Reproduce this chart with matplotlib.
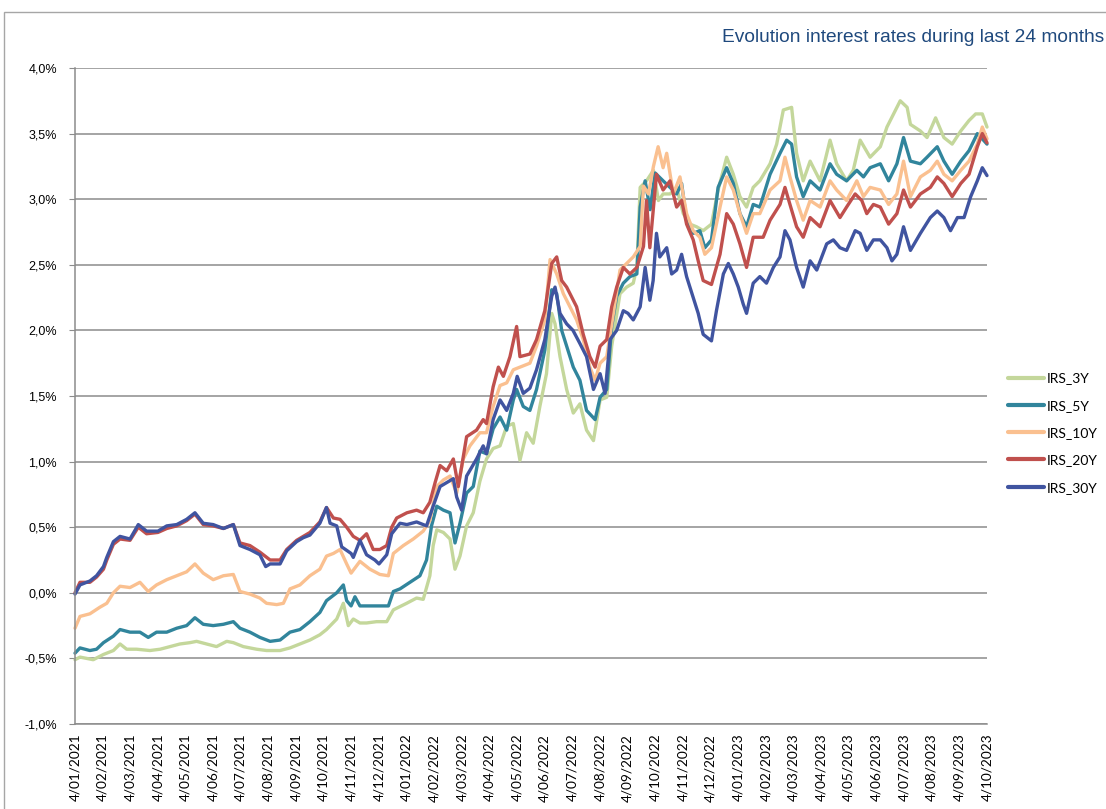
import matplotlib
matplotlib.use("Agg")
import matplotlib.pyplot as plt
from matplotlib.patches import Rectangle
from matplotlib.ticker import FuncFormatter, MultipleLocator

# ---- data: (month offset from 4/01/2021, rate in %) ----
irs_3y = [(0,-0.51),(0.18,-0.49),(0.66,-0.51),(1.03,-0.47),(1.39,-0.44),(1.63,-0.39),(1.87,-0.43),(2.23,-0.43),
          (2.71,-0.44),(3.08,-0.43),(3.44,-0.41),(3.80,-0.39),(4.16,-0.38),(4.40,-0.37),(4.76,-0.39),(5.12,-0.41),
          (5.49,-0.37),(5.73,-0.38),(6.09,-0.41),(6.57,-0.43),(6.93,-0.44),(7.42,-0.44),(7.78,-0.42),(8.14,-0.39),
          (8.50,-0.36),(8.86,-0.32),(9.10,-0.28),(9.47,-0.20),(9.71,-0.08),(9.89,-0.25),(10.07,-0.20),(10.31,-0.23),
          (10.55,-0.23),(10.91,-0.22),(11.28,-0.22),(11.52,-0.13),(12.0,-0.08),(12.36,-0.04),(12.60,-0.05),(12.84,0.13),
          (12.96,0.36),(13.09,0.48),(13.33,0.46),(13.57,0.41),(13.75,0.18),(13.93,0.28),(14.17,0.51),(14.41,0.61),
          (14.65,0.85),(14.89,1.02),(15.13,1.10),(15.38,1.12),(15.62,1.27),(15.86,1.29),(16.10,1.01),(16.34,1.22),
          (16.58,1.14),(16.82,1.42),(17.06,1.67),(17.25,2.13),(17.37,2.05),(17.55,1.80),(17.79,1.55),(18.03,1.37),
          (18.27,1.44),(18.51,1.24),(18.76,1.16),(19.0,1.47),(19.24,1.49),(19.42,1.88),(19.72,2.28),(19.96,2.33),
          (20.20,2.36),(20.33,2.48),(20.45,3.09),(20.68,3.14),(20.93,3.22),(21.11,2.99),(21.28,3.04),(21.53,3.04),
          (21.77,3.09),(22.01,2.89),(22.25,2.81),(22.49,2.79),(22.73,2.76),(23.03,2.81),(23.27,3.07),(23.58,3.32),
          (23.82,3.19),(24.06,3.02),(24.30,2.94),(24.54,3.09),(24.78,3.14),(25.15,3.27),(25.39,3.42),(25.63,3.68),
          (25.93,3.70),(26.11,3.35),(26.35,3.14),(26.60,3.29),(26.96,3.14),(27.32,3.45),(27.56,3.27),(27.92,3.14),
          (28.16,3.22),(28.41,3.45),(28.77,3.32),(29.14,3.40),(29.38,3.55),(29.62,3.65),(29.86,3.75),(30.11,3.70),
          (30.23,3.57),(30.59,3.52),(30.83,3.47),(31.14,3.62),(31.44,3.47),(31.74,3.42),(32.05,3.52),(32.35,3.60),
          (32.59,3.65),(32.83,3.65),(33.0,3.55)]

irs_5y = [(0,-0.46),(0.18,-0.42),(0.54,-0.44),(0.78,-0.43),(1.03,-0.38),(1.39,-0.33),(1.63,-0.28),(1.99,-0.30),
          (2.35,-0.30),(2.65,-0.34),(2.95,-0.30),(3.32,-0.30),(3.68,-0.27),(4.04,-0.25),(4.34,-0.19),(4.64,-0.24),
          (5.0,-0.25),(5.37,-0.24),(5.73,-0.22),(5.97,-0.27),(6.33,-0.30),(6.69,-0.34),(7.06,-0.37),(7.42,-0.36),
          (7.78,-0.30),(8.14,-0.28),(8.50,-0.22),(8.86,-0.15),(9.10,-0.06),(9.47,0.0),(9.71,0.06),(9.83,-0.06),
          (9.99,-0.10),(10.13,-0.03),(10.31,-0.10),(10.67,-0.10),(11.03,-0.10),(11.34,-0.10),(11.52,0.01),(11.76,0.03),
          (12.12,0.08),(12.48,0.13),(12.72,0.25),(12.90,0.51),(13.09,0.66),(13.33,0.63),(13.57,0.61),(13.75,0.38),
          (13.93,0.53),(14.17,0.76),(14.41,0.81),(14.65,1.08),(14.89,1.06),(15.13,1.25),(15.38,1.34),(15.62,1.24),
          (15.86,1.47),(15.98,1.55),(16.22,1.42),(16.46,1.39),(16.70,1.55),(17.0,1.85),(17.25,2.31),(17.43,2.28),
          (17.61,2.00),(17.79,1.88),(18.03,1.72),(18.27,1.62),(18.51,1.39),(18.82,1.32),(19.0,1.49),(19.24,1.55),
          (19.42,2.03),(19.60,2.26),(19.84,2.36),(20.08,2.41),(20.33,2.43),(20.45,2.94),(20.63,3.14),(20.81,2.92),
          (20.99,3.20),(21.28,3.14),(21.53,3.09),(21.77,3.04),(21.95,3.12),(22.13,2.84),(22.37,2.74),(22.61,2.76),
          (22.79,2.63),(23.03,2.69),(23.27,3.09),(23.58,3.24),(23.82,3.12),(24.06,2.89),(24.30,2.79),(24.54,2.96),
          (24.78,2.94),(25.15,3.19),(25.51,3.35),(25.75,3.45),(25.93,3.42),(26.11,3.17),(26.35,3.02),(26.60,3.14),
          (26.96,3.07),(27.32,3.27),(27.56,3.19),(27.92,3.14),(28.29,3.22),(28.53,3.17),(28.77,3.24),(29.14,3.27),
          (29.44,3.14),(29.74,3.27),(29.98,3.47),(30.23,3.29),(30.59,3.27),(30.83,3.32),(31.20,3.40),(31.44,3.29),
          (31.74,3.19),(32.05,3.29),(32.35,3.37),(32.65,3.50),(32.83,3.46),(33.0,3.42)]

irs_10y = [(0,-0.27),(0.18,-0.18),(0.54,-0.16),(0.90,-0.11),(1.15,-0.08),(1.39,0.0),(1.63,0.05),(1.99,0.04),
           (2.35,0.08),(2.65,0.01),(2.95,0.06),(3.32,0.10),(3.68,0.13),(4.04,0.16),(4.34,0.22),(4.64,0.15),
           (5.0,0.10),(5.37,0.13),(5.73,0.14),(5.97,0.01),(6.33,-0.01),(6.69,-0.04),(6.93,-0.08),(7.30,-0.09),
           (7.54,-0.08),(7.78,0.03),(8.14,0.06),(8.50,0.13),(8.86,0.18),(9.10,0.28),(9.35,0.30),(9.59,0.33),
           (9.83,0.22),(9.99,0.15),(10.31,0.24),(10.67,0.18),(11.03,0.14),(11.34,0.13),(11.52,0.30),(11.88,0.36),
           (12.24,0.41),(12.60,0.47),(12.84,0.55),(13.09,0.81),(13.33,0.86),(13.57,0.89),(13.81,0.76),(14.05,1.02),
           (14.29,1.12),(14.65,1.22),(14.89,1.22),(15.13,1.42),(15.38,1.58),(15.62,1.60),(15.86,1.70),(16.10,1.72),
           (16.46,1.75),(16.70,1.88),(17.0,2.08),(17.19,2.54),(17.43,2.43),(17.67,2.28),(17.91,2.18),(18.15,2.08),
           (18.39,1.93),(18.63,1.72),(18.82,1.62),(19.0,1.75),(19.24,1.80),(19.48,2.13),(19.72,2.46),(19.96,2.51),
           (20.20,2.56),(20.45,2.64),(20.57,3.10),(20.75,3.04),(20.93,3.25),(21.10,3.40),(21.28,3.24),(21.41,3.35),
           (21.65,3.04),(21.89,3.17),(22.13,2.89),(22.37,2.76),(22.61,2.71),(22.79,2.58),(23.03,2.63),(23.34,2.94),
           (23.58,3.17),(23.82,3.07),(24.06,2.89),(24.30,2.74),(24.54,2.89),(24.78,2.89),(25.15,3.07),(25.51,3.14),
           (25.69,3.32),(25.87,3.17),(26.11,2.99),(26.35,2.84),(26.60,2.99),(26.96,2.94),(27.32,3.14),(27.56,3.07),
           (27.92,2.99),(28.29,3.14),(28.53,3.02),(28.77,3.09),(29.14,3.07),(29.44,2.96),(29.74,3.04),(29.98,3.29),
           (30.23,3.02),(30.59,3.17),(30.95,3.22),(31.20,3.29),(31.44,3.19),(31.74,3.14),(32.05,3.22),(32.35,3.29),
           (32.65,3.42),(32.83,3.55),(33.0,3.46)]

irs_20y = [(0,0.0),(0.18,0.08),(0.54,0.08),(0.78,0.12),(1.03,0.18),(1.15,0.25),(1.39,0.37),(1.63,0.41),
           (1.99,0.40),(2.29,0.50),(2.59,0.45),(3.0,0.46),(3.32,0.49),(3.68,0.51),(4.04,0.55),(4.34,0.60),
           (4.64,0.52),(5.0,0.51),(5.37,0.49),(5.73,0.52),(5.97,0.38),(6.33,0.36),(6.69,0.31),(7.06,0.25),
           (7.42,0.25),(7.66,0.33),(8.02,0.40),(8.26,0.43),(8.50,0.46),(8.86,0.54),(9.10,0.65),(9.35,0.57),
           (9.59,0.56),(9.83,0.50),(10.07,0.43),(10.31,0.40),(10.55,0.45),(10.79,0.33),(11.03,0.33),(11.28,0.36),
           (11.46,0.50),(11.64,0.57),(12.01,0.61),(12.36,0.63),(12.60,0.61),(12.84,0.69),(13.03,0.84),(13.21,0.97),
           (13.45,0.93),(13.69,1.02),(13.87,0.81),(14.05,1.04),(14.17,1.19),(14.53,1.24),(14.77,1.32),(14.89,1.29),
           (15.13,1.57),(15.32,1.72),(15.50,1.65),(15.74,1.80),(15.98,2.03),(16.10,1.80),(16.46,1.82),(16.70,1.93),
           (17.0,2.15),(17.25,2.51),(17.43,2.56),(17.61,2.38),(17.79,2.33),(18.15,2.18),(18.39,1.97),(18.63,1.80),
           (18.82,1.72),(19.0,1.88),(19.24,1.93),(19.42,2.18),(19.60,2.33),(19.84,2.48),(20.08,2.43),(20.33,2.48),
           (20.57,2.64),(20.68,2.99),(20.80,2.63),(21.04,3.19),(21.28,3.07),(21.53,3.14),(21.77,2.94),(21.95,2.99),
           (22.13,2.81),(22.37,2.69),(22.55,2.53),(22.73,2.38),(23.03,2.35),(23.34,2.58),(23.58,2.89),(23.82,2.81),
           (24.06,2.66),(24.30,2.48),(24.54,2.71),(24.90,2.71),(25.15,2.84),(25.51,2.96),(25.69,3.09),(25.87,2.96),
           (26.11,2.79),(26.35,2.71),(26.60,2.86),(26.96,2.79),(27.32,2.99),(27.68,2.86),(27.92,2.94),(28.23,3.04),
           (28.47,2.99),(28.65,2.89),(28.89,2.96),(29.14,2.94),(29.44,2.81),(29.74,2.89),(29.98,3.07),(30.23,2.94),
           (30.59,3.04),(30.95,3.09),(31.20,3.17),(31.44,3.12),(31.74,3.02),(32.05,3.12),(32.35,3.19),(32.65,3.40),
           (32.83,3.50),(33.0,3.43)]

irs_30y = [(0,-0.01),(0.18,0.06),(0.54,0.09),(0.78,0.13),(1.03,0.20),(1.15,0.27),(1.39,0.39),(1.63,0.43),
           (1.99,0.41),(2.29,0.52),(2.59,0.47),(3.0,0.47),(3.32,0.51),(3.68,0.52),(4.04,0.56),(4.34,0.61),
           (4.64,0.53),(5.0,0.52),(5.37,0.49),(5.73,0.52),(5.97,0.36),(6.33,0.33),(6.69,0.29),(6.90,0.20),
           (7.06,0.22),(7.42,0.22),(7.66,0.32),(8.02,0.39),(8.26,0.42),(8.50,0.44),(8.86,0.53),(9.10,0.65),
           (9.23,0.53),(9.47,0.51),(9.65,0.35),(9.99,0.30),(10.07,0.27),(10.31,0.40),(10.55,0.29),(10.85,0.25),
           (11.0,0.22),(11.28,0.29),(11.46,0.45),(11.76,0.53),(12.01,0.52),(12.36,0.54),(12.72,0.51),(12.96,0.66),
           (13.21,0.81),(13.45,0.84),(13.69,0.87),(13.81,0.73),(13.99,0.63),(14.17,0.89),(14.53,1.02),(14.77,1.12),
           (14.89,1.06),(15.13,1.32),(15.38,1.47),(15.62,1.39),(15.86,1.52),(16.0,1.65),(16.22,1.52),(16.46,1.56),
           (16.70,1.70),(17.0,1.93),(17.25,2.26),(17.37,2.33),(17.55,2.13),(17.79,2.05),(18.02,2.00),(18.27,1.90),
           (18.51,1.80),(18.76,1.55),(19.0,1.67),(19.18,1.52),(19.36,1.93),(19.60,2.00),(19.84,2.15),(20.01,2.13),
           (20.20,2.08),(20.45,2.18),(20.63,2.48),(20.80,2.23),(20.92,2.38),(21.04,2.74),(21.16,2.56),(21.41,2.63),
           (21.59,2.43),(21.77,2.46),(21.95,2.58),(22.13,2.41),(22.37,2.25),(22.55,2.13),(22.73,1.97),(23.03,1.92),
           (23.21,2.15),(23.46,2.43),(23.64,2.51),(23.82,2.43),(24.0,2.33),(24.18,2.20),(24.30,2.13),(24.54,2.36),
           (24.78,2.41),(25.02,2.36),(25.27,2.48),(25.51,2.56),(25.69,2.76),(25.87,2.69),(26.11,2.48),(26.35,2.33),
           (26.60,2.53),(26.84,2.46),(27.20,2.66),(27.44,2.69),(27.68,2.63),(27.92,2.61),(28.23,2.76),(28.41,2.74),
           (28.65,2.61),(28.89,2.69),(29.14,2.69),(29.38,2.63),(29.56,2.53),(29.74,2.58),(29.98,2.79),(30.23,2.61),
           (30.59,2.74),(30.95,2.86),(31.20,2.91),(31.44,2.86),(31.68,2.76),(31.93,2.86),(32.17,2.86),(32.41,3.02),
           (32.65,3.14),(32.83,3.24),(33.0,3.18)]

series_names = ["IRS_3Y", "IRS_5Y", "IRS_10Y", "IRS_20Y", "IRS_30Y"]
series_data = [irs_3y, irs_5y, irs_10y, irs_20y, irs_30y]
series_colors = ["#c4d79b", "#31859c", "#fac090", "#c0504d", "#4054a0"]

month_labels = ["4/01/2021", "4/02/2021", "4/03/2021", "4/04/2021", "4/05/2021", "4/06/2021",
                "4/07/2021", "4/08/2021", "4/09/2021", "4/10/2021", "4/11/2021", "4/12/2021",
                "4/01/2022", "4/02/2022", "4/03/2022", "4/04/2022", "4/05/2022", "4/06/2022",
                "4/07/2022", "4/08/2022", "4/09/2022", "4/10/2022", "4/11/2022", "4/12/2022",
                "4/01/2023", "4/02/2023", "4/03/2023", "4/04/2023", "4/05/2023", "4/06/2023",
                "4/07/2023", "4/08/2023", "4/09/2023", "4/10/2023"]

title_text = "Evolution interest rates during last 24 months"

# ---- figure ----
W, H = 1106, 809
fig = plt.figure(figsize=(W / 100, H / 100), dpi=100)
fig.patch.set_facecolor("white")

# outer chart border (cropped at right/bottom)
fig.patches.append(Rectangle((4 / W, -0.2), 1.5, 1.2 - 12 / H,
                             transform=fig.transFigure, fill=False,
                             edgecolor="#a6a6a6", lw=1.0))

left, right, top, bottom = 75, 987, 68, 724
ax = fig.add_axes([left / W, 1 - bottom / H, (right - left) / W, (bottom - top) / H])

grid_color = "#8c8c8c"
for name, data, col in zip(series_names, series_data, series_colors):
    xs = [p[0] for p in data]
    ys = [p[1] for p in data]
    ax.plot(xs, ys, color=col, lw=2.4, label=name, solid_joinstyle="round",
            solid_capstyle="round", clip_on=False)

ax.set_xlim(0, len(month_labels) - 1)
ax.set_ylim(-1.0, 4.0)
ax.yaxis.set_major_locator(MultipleLocator(0.5))
ax.yaxis.set_major_formatter(FuncFormatter(lambda v, p: f"{v:.1f}%".replace(".", ",")))
ax.grid(axis="y", color=grid_color, lw=1.1)
ax.set_axisbelow(True)

ax.set_xticks(range(len(month_labels)))
ax.set_xticklabels(month_labels, rotation=90, fontsize=9.8, family="Lato", va="top")

for s in ["top", "right"]:
    ax.spines[s].set_visible(False)
ax.spines["left"].set_color(grid_color)
ax.spines["bottom"].set_color(grid_color)
ax.spines["left"].set_linewidth(1.1)
ax.spines["bottom"].set_linewidth(1.1)
ax.tick_params(axis="y", length=4, color=grid_color, pad=9, labelsize=9)
ax.tick_params(axis="x", length=0, pad=7)
for lab in ax.get_yticklabels():
    lab.set_family("Liberation Sans")

# title (cut at the right edge)
fig.text(722 / W, 1 - 38 / H, title_text, fontsize=13.8, color="#1f497d",
         family="Liberation Sans", va="center", ha="left")

# legend
leg = fig.legend(loc="center left", bbox_to_anchor=(1008 / W, 1 - 433 / H),
                 frameon=False, prop={"family": "Lato", "size": 10},
                 handlelength=2.6, handletextpad=0.2, labelspacing=1.1,
                 borderaxespad=0, borderpad=0)
for line in leg.get_lines():
    line.set_linewidth(3)

fig.savefig("out.png", dpi=100)
